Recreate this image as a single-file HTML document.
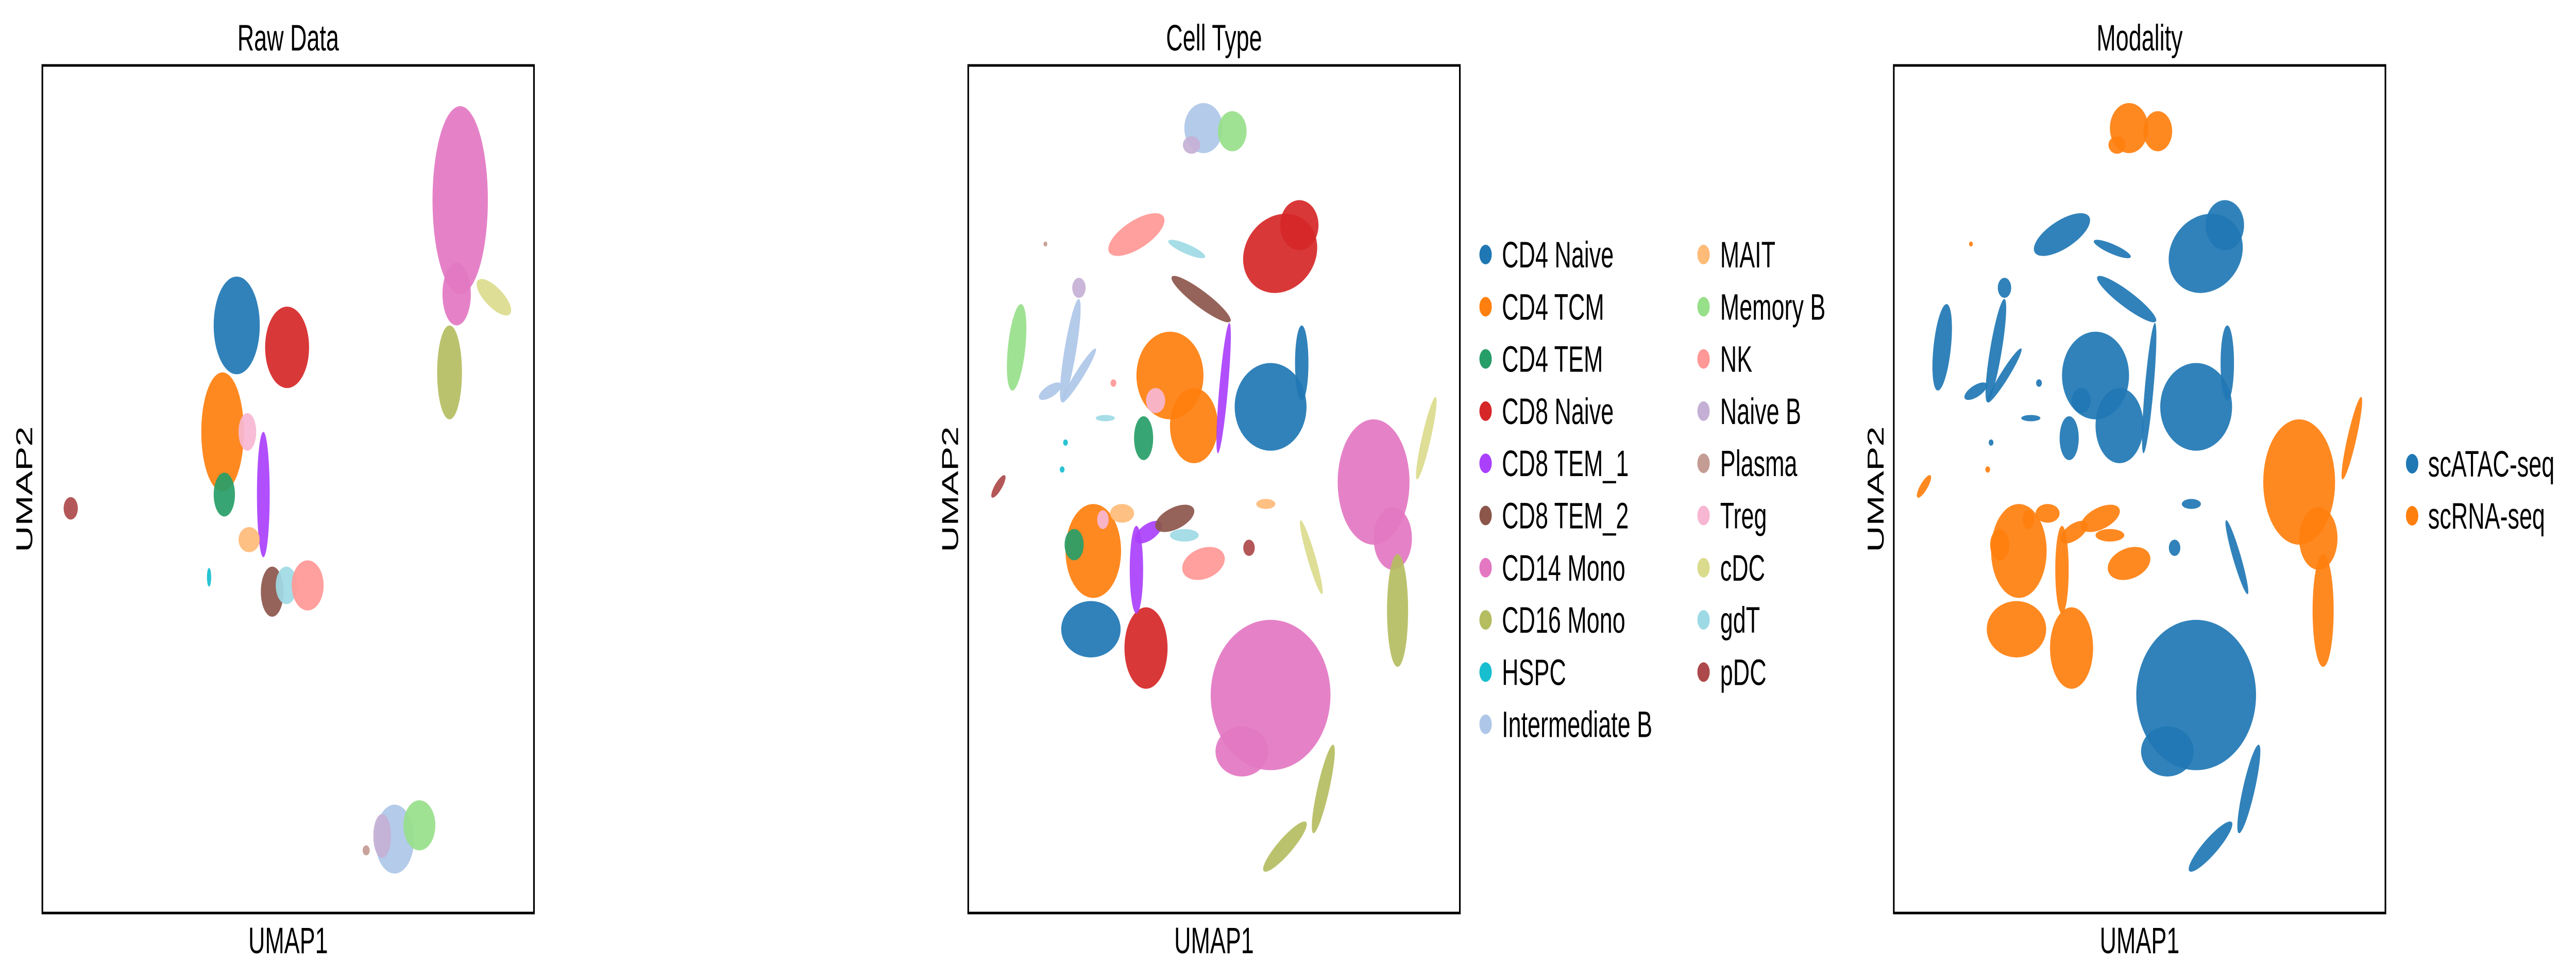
<!DOCTYPE html>
<html><head><meta charset="utf-8">
<style>
html,body{margin:0;padding:0;background:#fff;width:100%;height:100%;overflow:hidden;}
svg{display:block;width:100vw;height:100vh;}
text{font-family:"Liberation Sans",Arial,sans-serif;fill:#000;}
</style></head>
<body>
<svg id="fig" viewBox="0 0 7907 1902" preserveAspectRatio="none" xmlns="http://www.w3.org/2000/svg"></svg>
<script>
// ---- data ----
const cellTypes = ["CD4 Naive","CD4 TCM","CD4 TEM","CD8 Naive","CD8 TEM_1","CD8 TEM_2","CD14 Mono","CD16 Mono","HSPC","Intermediate B","MAIT","Memory B","NK","Naive B","Plasma","Treg","cDC","gdT","pDC"];
const typeColors = ["#1f77b4","#ff7f0e","#279e68","#d62728","#aa40fc","#8c564b","#e377c2","#b5bd61","#17becf","#aec7e8","#ffbb78","#98df8a","#ff9896","#c5b0d5","#c49c94","#f7b6d2","#dbdb8d","#9edae5","#ad494a"];
const modalities = ["scATAC-seq","scRNA-seq"];
const modalityColors = ["#1f77b4","#ff7f0e"];

// Raw data embedding blobs (UMAP units): type, x, y, rx, ry, rotation
const rawType = [6,6,16,7,0,3,1,2,15,4,10,5,17,12,18,8,9,11,13,14];
const rawX    = [1300,1290,1395,1270,670,812,630,635,700,745,705,770,810,870,202,592,1115,1185,1080,1035];
const rawY    = [320,470,475,595,520,555,690,790,690,790,862,945,935,935,812,922,1340,1318,1335,1358];
const rawRx   = [78,40,55,35,65,62,60,30,25,18,30,32,30,45,20,6,55,45,25,10];
const rawRy   = [150,50,18,75,78,65,95,35,30,100,20,40,30,40,18,15,55,40,35,8];
const rawRot  = [0,0,30,0,0,0,0,0,0,0,0,0,0,0,0,0,0,0,0,0];

// Integrated embedding blobs: type, modality, x, y, rx, ry, rotation
const intType = [9,11,13,12,17,3,3,5,1,1,15,2,0,0,4,11,9,9,9,13,12,8,8,18,17,14,6,6,7,16,16,1,2,15,10,0,3,4,4,5,17,12,10,18,6,6,7,7];
const intMod  = [1,1,1,0,0,0,0,0,0,0,0,0,0,0,0,0,0,0,0,0,0,0,1,1,0,1,1,1,1,1,0,1,1,1,1,1,1,1,1,1,1,1,0,0,0,0,0,0];
const intX    = [540,600,515,400,505,700,740,535,470,520,440,415,680,745,582,150,262,280,220,280,352,252,245,112,335,210,895,935,945,1005,765,310,270,330,370,305,420,400,425,480,500,540,670,635,680,620,790,710];
const intY    = [205,210,232,375,398,405,360,478,600,680,640,700,650,580,620,555,560,600,625,460,612,707,750,777,668,390,770,860,975,700,890,880,870,830,820,1005,1035,910,850,828,855,900,805,875,1110,1200,1260,1352];
const intRx   = [40,30,18,62,40,78,40,68,70,50,20,20,75,14,9,18,12,50,25,14,6,5,5,20,20,4,75,40,22,9,8,58,20,12,25,62,45,14,30,42,30,45,20,12,125,55,12,55];
const intRy   = [40,32,14,24,8,62,40,14,70,60,20,35,70,60,105,70,85,9,10,16,6,5,5,8,5,4,100,50,90,70,65,75,25,15,15,45,65,70,14,18,10,25,8,13,120,40,75,15];
const intRot  = [0,0,0,-20,15,-10,0,25,0,0,0,0,0,0,8,10,15,-45,-20,0,0,0,0,-45,0,0,0,0,0,20,-25,0,0,0,0,0,0,0,-20,-15,0,-10,0,0,0,0,20,-35];

// ---- layout ----
const NS="http://www.w3.org/2000/svg";
const svg=document.getElementById('fig');
const boxW=1509, boxH=1645, boxY=127;
const panels=[
  {left:130, title:"Raw Data", name:"raw-data", dom:{x0:122,x1:1508,y0:105,y1:1458}},
  {left:2972, title:"Cell Type", name:"cell-type", dom:{x0:49,x1:1075,y0:105,y1:1458}},
  {left:5813, title:"Modality", name:"modality", dom:{x0:49,x1:1075,y0:105,y1:1458}}
];
function el(tag,attrs,parent){const e=document.createElementNS(NS,tag);for(const k in attrs)e.setAttribute(k,attrs[k]);(parent||svg).appendChild(e);return e;}
function xScale(p,v){return p.left+(v-p.dom.x0)/(p.dom.x1-p.dom.x0)*boxW;}
function yScale(p,v){return boxY+(v-p.dom.y0)/(p.dom.y1-p.dom.y0)*boxH;}
function rxScale(p,v){return v/(p.dom.x1-p.dom.x0)*boxW;}
function ryScale(p,v){return v/(p.dom.y1-p.dom.y0)*boxH;}

panels.forEach((p,pi)=>{
  const g=el('g',{});
  
  
  const t=el('text',{x:p.left+boxW/2,y:98,'font-size':71,'text-anchor':'middle'},g);
  t.textContent=p.title;
  
  
  const pts=el('g',{},g);
  
  
  const n = pi===0 ? rawType.length : intType.length;
  for(let i=0;i<n;i++){
    let x,y,rx,ry,rot,col;
    if(pi===0){x=rawX[i];y=rawY[i];rx=rawRx[i];ry=rawRy[i];rot=rawRot[i];col=typeColors[rawType[i]];}
    else{x=intX[i];y=intY[i];rx=intRx[i];ry=intRy[i];rot=intRot[i];col=pi===1?typeColors[intType[i]]:modalityColors[intMod[i]];}
    const cx=xScale(p,x), cy=yScale(p,y);
    const e=el('ellipse',{cx:cx,cy:cy,rx:rxScale(p,rx),ry:ryScale(p,ry),fill:col,'fill-opacity':0.92,transform:`rotate(${rot} ${cx} ${cy})`},pts);
    
    
  }
  const r=el('rect',{x:p.left,y:boxY,width:boxW,height:boxH,fill:'none',stroke:'#000','stroke-width':5},g);
  
  
  const xl=el('text',{x:p.left+boxW/2,y:1850,'font-size':71,'text-anchor':'middle'},g);
  xl.textContent="UMAP1";
  
  
  const yx=p.left-56+25, yy=boxY+boxH/2;
  const yl=el('text',{x:yx,y:yy,'font-size':71,'text-anchor':'middle',transform:`rotate(-90 ${yx} ${yy})`},g);
  yl.textContent="UMAP2";
  
  
});

// legends
function legendEntry(mx,tx,cy,color,label){
  const g=el('g',{});
  
  
  el('circle',{cx:mx,cy:cy,r:19,fill:color},g);
  const t=el('text',{x:tx,y:cy+25,'font-size':71},g);
  t.textContent=label;
}
cellTypes.forEach((c,i)=>{
  const col=i<10?0:1, row=i<10?i:i-10;
  legendEntry(col===0?4560:5229, col===0?4610:5280, 494+row*101.3, typeColors[i], c);
});
modalities.forEach((m,i)=>{
  legendEntry(7404,7453,900+i*101,modalityColors[i],m);
});
</script>
</body></html>
